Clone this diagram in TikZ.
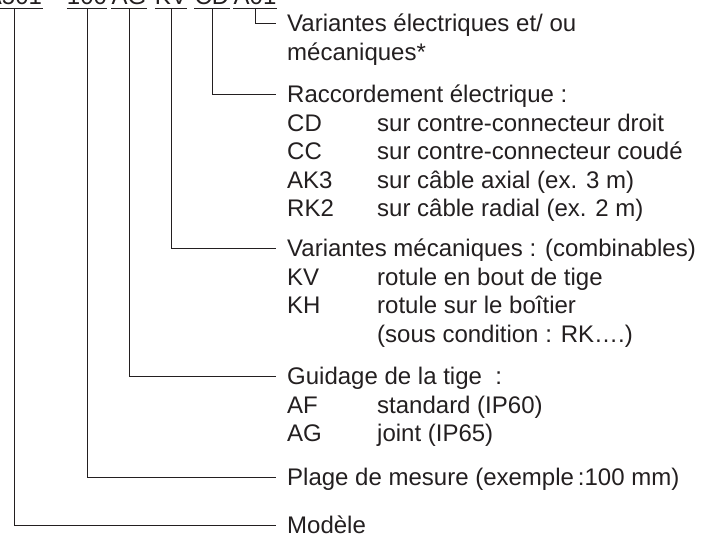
\documentclass[tikz,border=0pt]{standalone}
\usepackage{fontspec}
\setmainfont{Liberation Sans}
\usepackage{tikz}
\usetikzlibrary{positioning, calc}
\definecolor{ink}{HTML}{231F20}
\tikzset{
  code/.style = {inner xsep=0pt, inner ysep=3.5pt, text depth=0pt, anchor=south,
                 text=ink, font=\fontsize{24}{28}\selectfont},
  lbl/.style  = {inner sep=0pt, text height=17pt, text depth=0pt, anchor=west,
                 text=ink, font=\fontsize{24}{28}\selectfont},
  lead/.style = {draw=ink, line width=1pt},
}
\begin{document}
\begin{tikzpicture}[x=1pt, y=-1pt]

  \useasboundingbox (0,0) rectangle (701,538);
  \clip (0,0) rectangle (701,538);

  % type code, cut by the top edge
  \node[code, minimum width=58pt] (c1) at (14,8.5)  {A501};
  \node[code, minimum width=36pt] (c2) at (87,8.5)  {100};
  \node[code, minimum width=32pt] (c3) at (129,8.5) {AG};
  \node[code, minimum width=32pt] (c4) at (171,8.5) {KV};
  \node[code, minimum width=32pt] (c5) at (212,8.5) {CD};
  \node[code, minimum width=36pt] (c6) at (255,8.5) {A01};

  \foreach \c in {c1,c2,c3,c4,c5,c6}
    \draw[lead] (\c.south west) -- (\c.south east);

  % explanations
  \node[lbl] (varel)  at (287,23)    {Variantes électriques et/ ou};
  \node[lbl] (varel2) at (287,51.5)  {mécaniques*};

  \node[lbl] (racc)   at (287,94)    {Raccordement électrique :};
  \node[lbl] (cd)     at (287,122.5) {CD};
  \node[lbl] (cdt)    at (377,122.5) {sur contre-connecteur droit};
  \node[lbl] (cc)     at (287,151)   {CC};
  \node[lbl] (cct)    at (377,151)   {sur contre-connecteur coudé};
  \node[lbl] (ak)     at (287,179.5) {AK3};
  \node[lbl] (akt)    at (377,179.5) {sur câble axial (ex. 3 m)};
  \node[lbl] (rk)     at (287,208)   {RK2};
  \node[lbl] (rkt)    at (377,208)   {sur câble radial (ex. 2 m)};

  \node[lbl] (varmec) at (287,248)   {Variantes mécaniques : (combinables)};
  \node[lbl] (kv)     at (287,276.5) {KV};
  \node[lbl] (kvt)    at (377,276.5) {rotule en bout de tige};
  \node[lbl] (kh)     at (287,305)   {KH};
  \node[lbl] (kht)    at (377,305)   {rotule sur le boîtier};
  \node[lbl] (cond)   at (377,333.5) {(sous condition : RK….)};

  \node[lbl] (guid)   at (287,376)   {Guidage de la tige\ \ :};
  \node[lbl] (af)     at (287,404.5) {AF};
  \node[lbl] (aft)    at (377,404.5) {standard (IP60)};
  \node[lbl] (ag)     at (287,433)   {AG};
  \node[lbl] (agt)    at (377,433)   {joint (IP65)};

  \node[lbl] (plage)  at (287,477)   {Plage de mesure (exemple\,:100 mm)};
  \node[lbl] (modele) at (287,525)   {Modèle};

  \draw[lead] (c6.south) |- ([xshift=-11pt]varel.west);
  \draw[lead] (c5.south) |- ([xshift=-11pt]racc.west);
  \draw[lead] (c4.south) |- ([xshift=-11pt]varmec.west);
  \draw[lead] (c3.south) |- ([xshift=-11pt]guid.west);
  \draw[lead] (c2.south) |- ([xshift=-11pt]plage.west);
  \draw[lead] (c1.south) |- ([xshift=-11pt]modele.west);

\end{tikzpicture}
\end{document}
